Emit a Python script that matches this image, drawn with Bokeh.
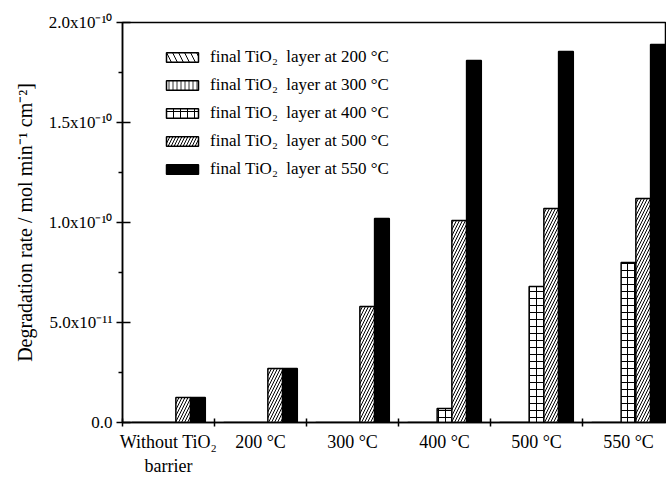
from bokeh.plotting import figure
from bokeh.models import Range1d, FixedTicker, Legend, LegendItem, Label
from bokeh.embed import file_html
from bokeh.resources import INLINE
import numpy as np

# ---- data ----
categories = ["Without TiO\u2082\nbarrier", "200 \u00b0C", "300 \u00b0C", "400 \u00b0C", "500 \u00b0C", "550 \u00b0C"]
series_labels = [
    "final TiO\u2082  layer at 200 \u00b0C",
    "final TiO\u2082  layer at 300 \u00b0C",
    "final TiO\u2082  layer at 400 \u00b0C",
    "final TiO\u2082  layer at 500 \u00b0C",
    "final TiO\u2082  layer at 550 \u00b0C",
]
rate_200 = [0.0, 0.0, 0.0, 0.0, 0.0, 0.0]
rate_300 = [0.0, 0.0, 0.0, 0.0, 0.0, 0.0]
rate_400 = [0.0, 0.0, 0.0, 0.07e-10, 0.68e-10, 0.80e-10]
rate_500 = [0.125e-10, 0.27e-10, 0.58e-10, 1.01e-10, 1.07e-10, 1.12e-10]
rate_550 = [0.125e-10, 0.27e-10, 1.02e-10, 1.81e-10, 1.855e-10, 1.89e-10]
y_ticks = [0.0, 5e-11, 1e-10, 1.5e-10, 2e-10]
y_tick_labels = ["0.0", "5.0x10\u207b\u00b9\u00b9", "1.0x10\u207b\u00b9\u2070",
                 "1.5x10\u207b\u00b9\u2070", "2.0x10\u207b\u00b9\u2070"]
y_minor = [2.5e-11, 7.5e-11, 1.25e-10, 1.75e-10]

FONT = "Liberation Serif"

n = len(categories)
centers = np.arange(n) + 0.5
bar_w = 0.16
offsets = [-0.32, -0.16, 0.0, 0.16, 0.32]

p = figure(width=666, height=496,
           x_range=Range1d(0, 544 / 92), y_range=Range1d(0, 2e-10),
           output_backend="svg", toolbar_location=None,
           min_border_left=122, min_border_right=0,
           min_border_top=22, min_border_bottom=74)
p.xgrid.visible = False
p.ygrid.visible = False
p.outline_line_color = "black"
p.outline_line_width = 1.5
p.background_fill_color = "white"
p.border_fill_color = "white"

styles = [
    dict(fill_color="white", hatch_pattern="left_diagonal_line", hatch_scale=12, hatch_weight=1, hatch_color="black"),
    dict(fill_color="white", hatch_pattern="vertical_line", hatch_scale=4, hatch_weight=0.8, hatch_color="black"),
    dict(fill_color="white", hatch_pattern="cross", hatch_scale=7, hatch_weight=1, hatch_color="black"),
    dict(fill_color="white", hatch_pattern="right_diagonal_line", hatch_scale=6, hatch_weight=1, hatch_color="black"),
    dict(fill_color="black"),
]
series = [rate_200, rate_300, rate_400, rate_500, rate_550]

items = []
for vals, off, st, lab in zip(series, offsets, styles, series_labels):
    r = p.vbar(x=centers + off, top=vals, bottom=0, width=bar_w,
               line_color="black", line_width=1.5, **st)
    items.append(LegendItem(label=lab, renderers=[r]))

legend = Legend(items=items, location=(40, 243),
                glyph_width=40, glyph_height=12, label_height=20,
                spacing=8, padding=0, margin=0, label_standoff=8,
                label_text_font=FONT, label_text_font_size="17px",
                label_text_color="black",
                border_line_color=None, background_fill_alpha=0)
p.add_layout(legend)

# x axis
xa = p.xaxis[0]
xa.ticker = FixedTicker(ticks=list(centers), minor_ticks=list(range(n + 1)))
xa.major_label_overrides = {float(c): cat for c, cat in zip(centers, categories)}
xa.major_tick_in = 0
xa.major_tick_out = 0
xa.minor_tick_in = 4
xa.minor_tick_out = 4
xa.minor_tick_line_width = 1.5
xa.minor_tick_line_color = "black"
xa.axis_line_width = 1.5
xa.axis_line_color = "black"
xa.major_label_standoff = 5
xa.major_label_text_font = FONT
xa.major_label_text_font_size = "18px"
xa.major_label_text_color = "black"

# y axis
ya = p.yaxis[0]
ya.ticker = FixedTicker(ticks=y_ticks, minor_ticks=y_minor)
ya.major_label_overrides = {t: l for t, l in zip(y_ticks, y_tick_labels)}
ya.major_tick_in = 8
ya.major_tick_out = 6
ya.minor_tick_in = 0
ya.minor_tick_out = 4
ya.major_tick_line_width = 1.5
ya.minor_tick_line_width = 1.5
ya.major_tick_line_color = "black"
ya.minor_tick_line_color = "black"
ya.axis_line_width = 1.5
ya.axis_line_color = "black"
ya.major_label_standoff = 4
ya.major_label_text_font = FONT
ya.major_label_text_font_size = "17px"
ya.major_label_text_color = "black"
ya.axis_label = "Degradation rate / mol min\u207b\u00b9 cm\u207b\u00b2]"
ya.axis_label_text_font = FONT
ya.axis_label_text_font_size = "20px"
ya.axis_label_text_font_style = "normal"
ya.axis_label_text_color = "black"
ya.axis_label_standoff = 10

xlabel = Label(x=3.36, y=-0.29e-10, text="Calcination temperature of TiO\u2082 barrier layer",
               text_font=FONT, text_font_size="20px", text_color="black",
               text_align="center", text_baseline="middle")
p.add_layout(xlabel)

open("out.html", "w").write(file_html(p, INLINE))
